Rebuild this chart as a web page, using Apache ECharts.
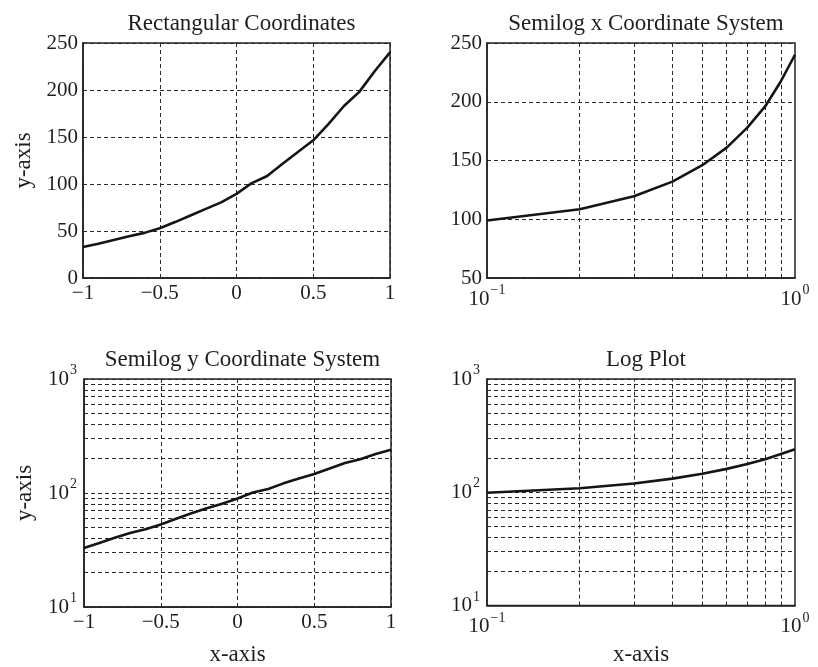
<!DOCTYPE html>
<html>
<head>
<meta charset="utf-8">
<script src="https://cdn.jsdelivr.net/npm/echarts@6/dist/echarts.min.js"></script>
<style>
html,body{margin:0;padding:0;background:#fff;}
#c{width:818px;height:667px;}
</style>
</head>
<body>
<div id="c"></div>
<script>
// ---- data ----
const rectX = [-1, -0.9, -0.8, -0.7, -0.6, -0.5, -0.4, -0.3, -0.2, -0.1, 0, 0.1, 0.2, 0.3, 0.4, 0.5, 0.6, 0.7, 0.8, 0.9, 1];
const rectY = [33, 36.5, 40.5, 44.5, 48, 53, 59.5, 66.5, 73.5, 80.5, 89.5, 101, 108.5, 121.5, 134, 146.5, 164, 183, 198, 220, 240];
const logX = [0.1, 0.2, 0.3, 0.4, 0.5, 0.6, 0.7, 0.8, 0.9, 1];
const logY = [99, 108.5, 119.5, 132, 146, 161, 178, 196, 217.5, 240];
const titles = ['Rectangular Coordinates', 'Semilog x Coordinate System', 'Semilog y Coordinate System', 'Log Plot'];
const minorLogY = [20, 30, 40, 50, 60, 70, 80, 90, 200, 300, 400, 500, 600, 700, 800, 900];
const minorLogX = [0.2, 0.3, 0.4, 0.5, 0.6, 0.7, 0.8, 0.9];

// ---- style ----
const FONT = '"Liberation Serif", "DejaVu Serif", serif';
const TXT = '#1e1e1e';
const GRIDC = '#2a2a2a';
const DASH = [4, 3];
const TICK_FS = 21;
const NAME_FS = 23;

const grids = [
  {left: 83, top: 43, width: 307, height: 235},
  {left: 487, top: 43, width: 308, height: 235},
  {left: 84, top: 379, width: 307, height: 229},
  {left: 487, top: 379, width: 308, height: 229}
];

function fmtLin(v) {
  const s = String(Math.round(v * 100) / 100);
  return s.replace('-', '\u2212');
}
function fmtLog(v) {
  const e = Math.round(Math.log10(v));
  return '{b|10}{s|' + String(e).replace('-', '\u2212') + '}';
}
const richSup = {
  b: {fontFamily: FONT, fontSize: TICK_FS, color: TXT, lineHeight: 22},
  s: {fontFamily: FONT, fontSize: 14, color: TXT, lineHeight: 14, padding: [0, 0, 17, 1]}
};

const splitDash = {show: true, lineStyle: {color: GRIDC, type: DASH, width: 1}};
const axisLine = {show: true, onZero: false, lineStyle: {color: '#222', width: 1.5}};

function linX(gi, name) {
  return {
    gridIndex: gi, type: 'value', min: -1, max: 1, interval: 0.5,
    axisLine: axisLine, axisTick: {show: false}, splitLine: splitDash,
    axisLabel: {formatter: fmtLin, fontFamily: FONT, fontSize: TICK_FS, color: TXT, margin: 5},
    name: name || '', nameLocation: 'middle', nameGap: 36,
    nameTextStyle: {fontFamily: FONT, fontSize: NAME_FS, color: TXT}
  };
}
function logXAxis(gi, name) {
  return {
    gridIndex: gi, type: 'log', logBase: 10, min: 0.1, max: 1,
    axisLine: axisLine, axisTick: {show: false}, splitLine: {show: false},
    axisLabel: {formatter: fmtLog, rich: richSup, margin: 10, showMinLabel: true, showMaxLabel: true},
    name: name || '', nameLocation: 'middle', nameGap: 36,
    nameTextStyle: {fontFamily: FONT, fontSize: NAME_FS, color: TXT}
  };
}
function linY(gi, min, max, name) {
  return {
    gridIndex: gi, type: 'value', min: min, max: max, interval: 50,
    axisLine: axisLine, axisTick: {show: false}, splitLine: splitDash,
    axisLabel: {formatter: fmtLin, fontFamily: FONT, fontSize: TICK_FS, color: TXT, margin: 5},
    name: name || '', nameLocation: 'middle', nameGap: 48,
    nameTextStyle: {fontFamily: FONT, fontSize: NAME_FS, color: TXT}
  };
}
function logYAxis(gi, name) {
  return {
    gridIndex: gi, type: 'log', logBase: 10, min: 10, max: 1000,
    axisLine: axisLine, axisTick: {show: false}, splitLine: splitDash,
    axisLabel: {formatter: fmtLog, rich: richSup, margin: 7, showMinLabel: true, showMaxLabel: true},
    name: name || '', nameLocation: 'middle', nameGap: 48,
    nameTextStyle: {fontFamily: FONT, fontSize: NAME_FS, color: TXT}
  };
}

function pairs(xs, ys) { return xs.map((x, i) => [x, ys[i]]); }

function curve(gi, xs, ys) {
  return {
    type: 'line', xAxisIndex: gi, yAxisIndex: gi, data: pairs(xs, ys),
    showSymbol: false, symbol: 'none', z: 5, animation: false, silent: true,
    lineStyle: {color: '#151515', width: 2.6}
  };
}
function gridLines(gi, xs, ys, vx, hy) {
  const d = [];
  (vx || []).forEach(v => d.push({xAxis: v}));
  (hy || []).forEach(v => d.push({yAxis: v}));
  return {
    type: 'line', xAxisIndex: gi, yAxisIndex: gi, data: pairs(xs, ys),
    showSymbol: false, symbol: 'none', z: 1, animation: false, silent: true,
    lineStyle: {opacity: 0},
    markLine: {
      silent: true, animation: false, symbol: ['none', 'none'],
      label: {show: false},
      lineStyle: {color: GRIDC, type: DASH, width: 1},
      data: d
    }
  };
}

const option = {
  backgroundColor: '#fff',
  animation: false,
  title: titles.map((t, i) => ({
    text: t,
    left: grids[i].left + grids[i].width / 2,
    top: grids[i].top - 36,
    textAlign: 'center',
    textStyle: {fontFamily: FONT, fontSize: NAME_FS, fontWeight: 'normal', color: TXT}
  })),
  grid: grids.map(g => Object.assign({show: true, borderColor: '#222', borderWidth: 1.5, backgroundColor: 'transparent', containLabel: false}, g)),
  xAxis: [linX(0), logXAxis(1), linX(2, 'x-axis'), logXAxis(3, 'x-axis')],
  yAxis: [linY(0, 0, 250, 'y-axis'), linY(1, 50, 250), logYAxis(2, 'y-axis'), logYAxis(3)],
  series: [
    curve(0, rectX, rectY),
    curve(1, logX, logY),
    gridLines(1, logX, logY, minorLogX, []),
    curve(2, rectX, rectY),
    gridLines(2, rectX, rectY, [], minorLogY),
    curve(3, logX, logY),
    gridLines(3, logX, logY, minorLogX, minorLogY)
  ]
};

const chart = echarts.init(document.getElementById('c'), null, {renderer: 'canvas'});
chart.setOption(option);
</script>
</body>
</html>
